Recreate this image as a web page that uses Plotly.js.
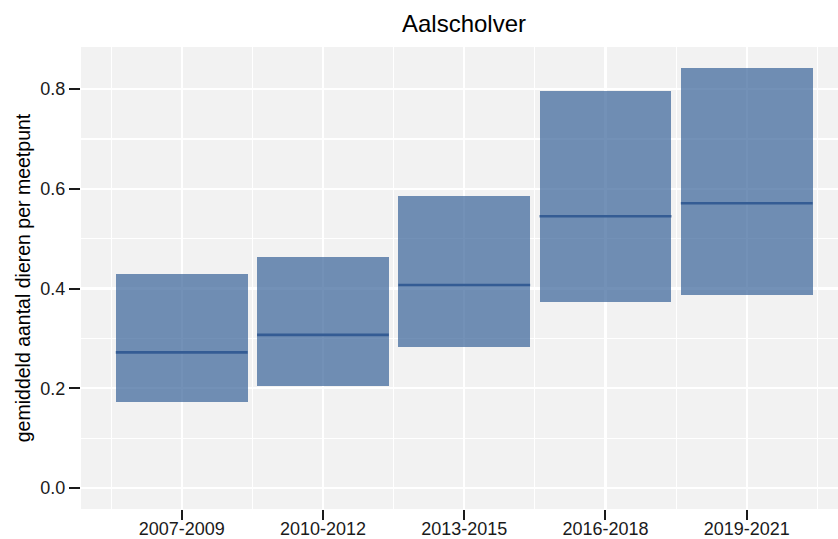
<!DOCTYPE html>
<html>
<head>
<meta charset="utf-8">
<script src="https://cdn.plot.ly/plotly-3.0.1.min.js"></script>
<style>
html,body{margin:0;padding:0;background:#fff;overflow:hidden;}
#chart{width:838px;height:539px;}
</style>
</head>
<body>
<div id="chart"></div>
<script>
// Data
const periods = ["2007-2009", "2010-2012", "2013-2015", "2016-2018", "2019-2021"];
const lower   = [0.172, 0.204, 0.282, 0.373, 0.387];
const upper   = [0.430, 0.464, 0.586, 0.796, 0.842];
const median  = [0.272, 0.307, 0.407, 0.545, 0.571];

const boxWidth = 0.933;
const fillCol = "rgba(55,98,153,0.70)";
const lineCol = "rgb(52,92,148)";

const xs = periods.map((p, i) => i + 1);

const barTrace = {
  type: "bar",
  x: xs,
  y: upper.map((u, i) => u - lower[i]),
  base: lower,
  width: boxWidth,
  marker: {color: fillCol, line: {width: 0}},
  hoverinfo: "skip",
  showlegend: false
};

const mx = [], my = [];
xs.forEach((x, i) => {
  mx.push(x - boxWidth / 2, x + boxWidth / 2, null);
  my.push(median[i], median[i], null);
});
const medTrace = {
  type: "scatter",
  mode: "lines",
  x: mx,
  y: my,
  line: {color: lineCol, width: 2.6},
  hoverinfo: "skip",
  showlegend: false
};

const font = "Liberation Sans, Arial, Helvetica, sans-serif";

const layout = {
  width: 838,
  height: 539,
  margin: {l: 81, r: 0, t: 47, b: 30},
  paper_bgcolor: "#ffffff",
  plot_bgcolor: "#f2f2f2",
  font: {family: font, color: "#000"},
  title: {
    text: "Aalscholver",
    font: {family: font, size: 24, color: "#000"},
    x: 464 / 838,
    xref: "container",
    xanchor: "center",
    y: 1 - 24 / 539,
    yref: "container",
    yanchor: "middle"
  },
  xaxis: {
    range: [0.287, 5.646],
    tickmode: "array",
    tickvals: xs,
    ticktext: periods,
    showgrid: true,
    gridcolor: "#ffffff",
    gridwidth: 2.2,
    zeroline: false,
    showline: false,
    ticks: "outside",
    ticklen: 10,
    tickwidth: 2,
    tickcolor: "#1a1a1a",
    ticklabelstandoff: -7,
    tickfont: {family: font, size: 18, color: "#1a1a1a"},
    minor: {tickmode: "linear", tick0: 0.5, dtick: 1, showgrid: true, gridcolor: "#ffffff", gridwidth: 1.1, ticks: ""},
    fixedrange: true
  },
  yaxis: {
    range: [-0.0421, 0.8844],
    tickmode: "array",
    tickvals: [0, 0.2, 0.4, 0.6, 0.8],
    ticktext: ["0.0", "0.2", "0.4", "0.6", "0.8"],
    showgrid: true,
    gridcolor: "#ffffff",
    gridwidth: 2.2,
    zeroline: false,
    showline: false,
    ticks: "outside",
    ticklen: 11,
    tickwidth: 2,
    tickcolor: "#1a1a1a",
    tickfont: {family: font, size: 18, color: "#1a1a1a"},
    minor: {tickmode: "linear", tick0: 0.1, dtick: 0.2, showgrid: true, gridcolor: "#ffffff", gridwidth: 1.1, ticks: ""},
    title: {text: "gemiddeld aantal dieren per meetpunt", font: {family: font, size: 19.5, color: "#000"}, standoff: 4},
    fixedrange: true
  },
  bargap: 0
};

Plotly.newPlot("chart", [barTrace, medTrace], layout, {staticPlot: true, displayModeBar: false});
</script>
</body>
</html>
